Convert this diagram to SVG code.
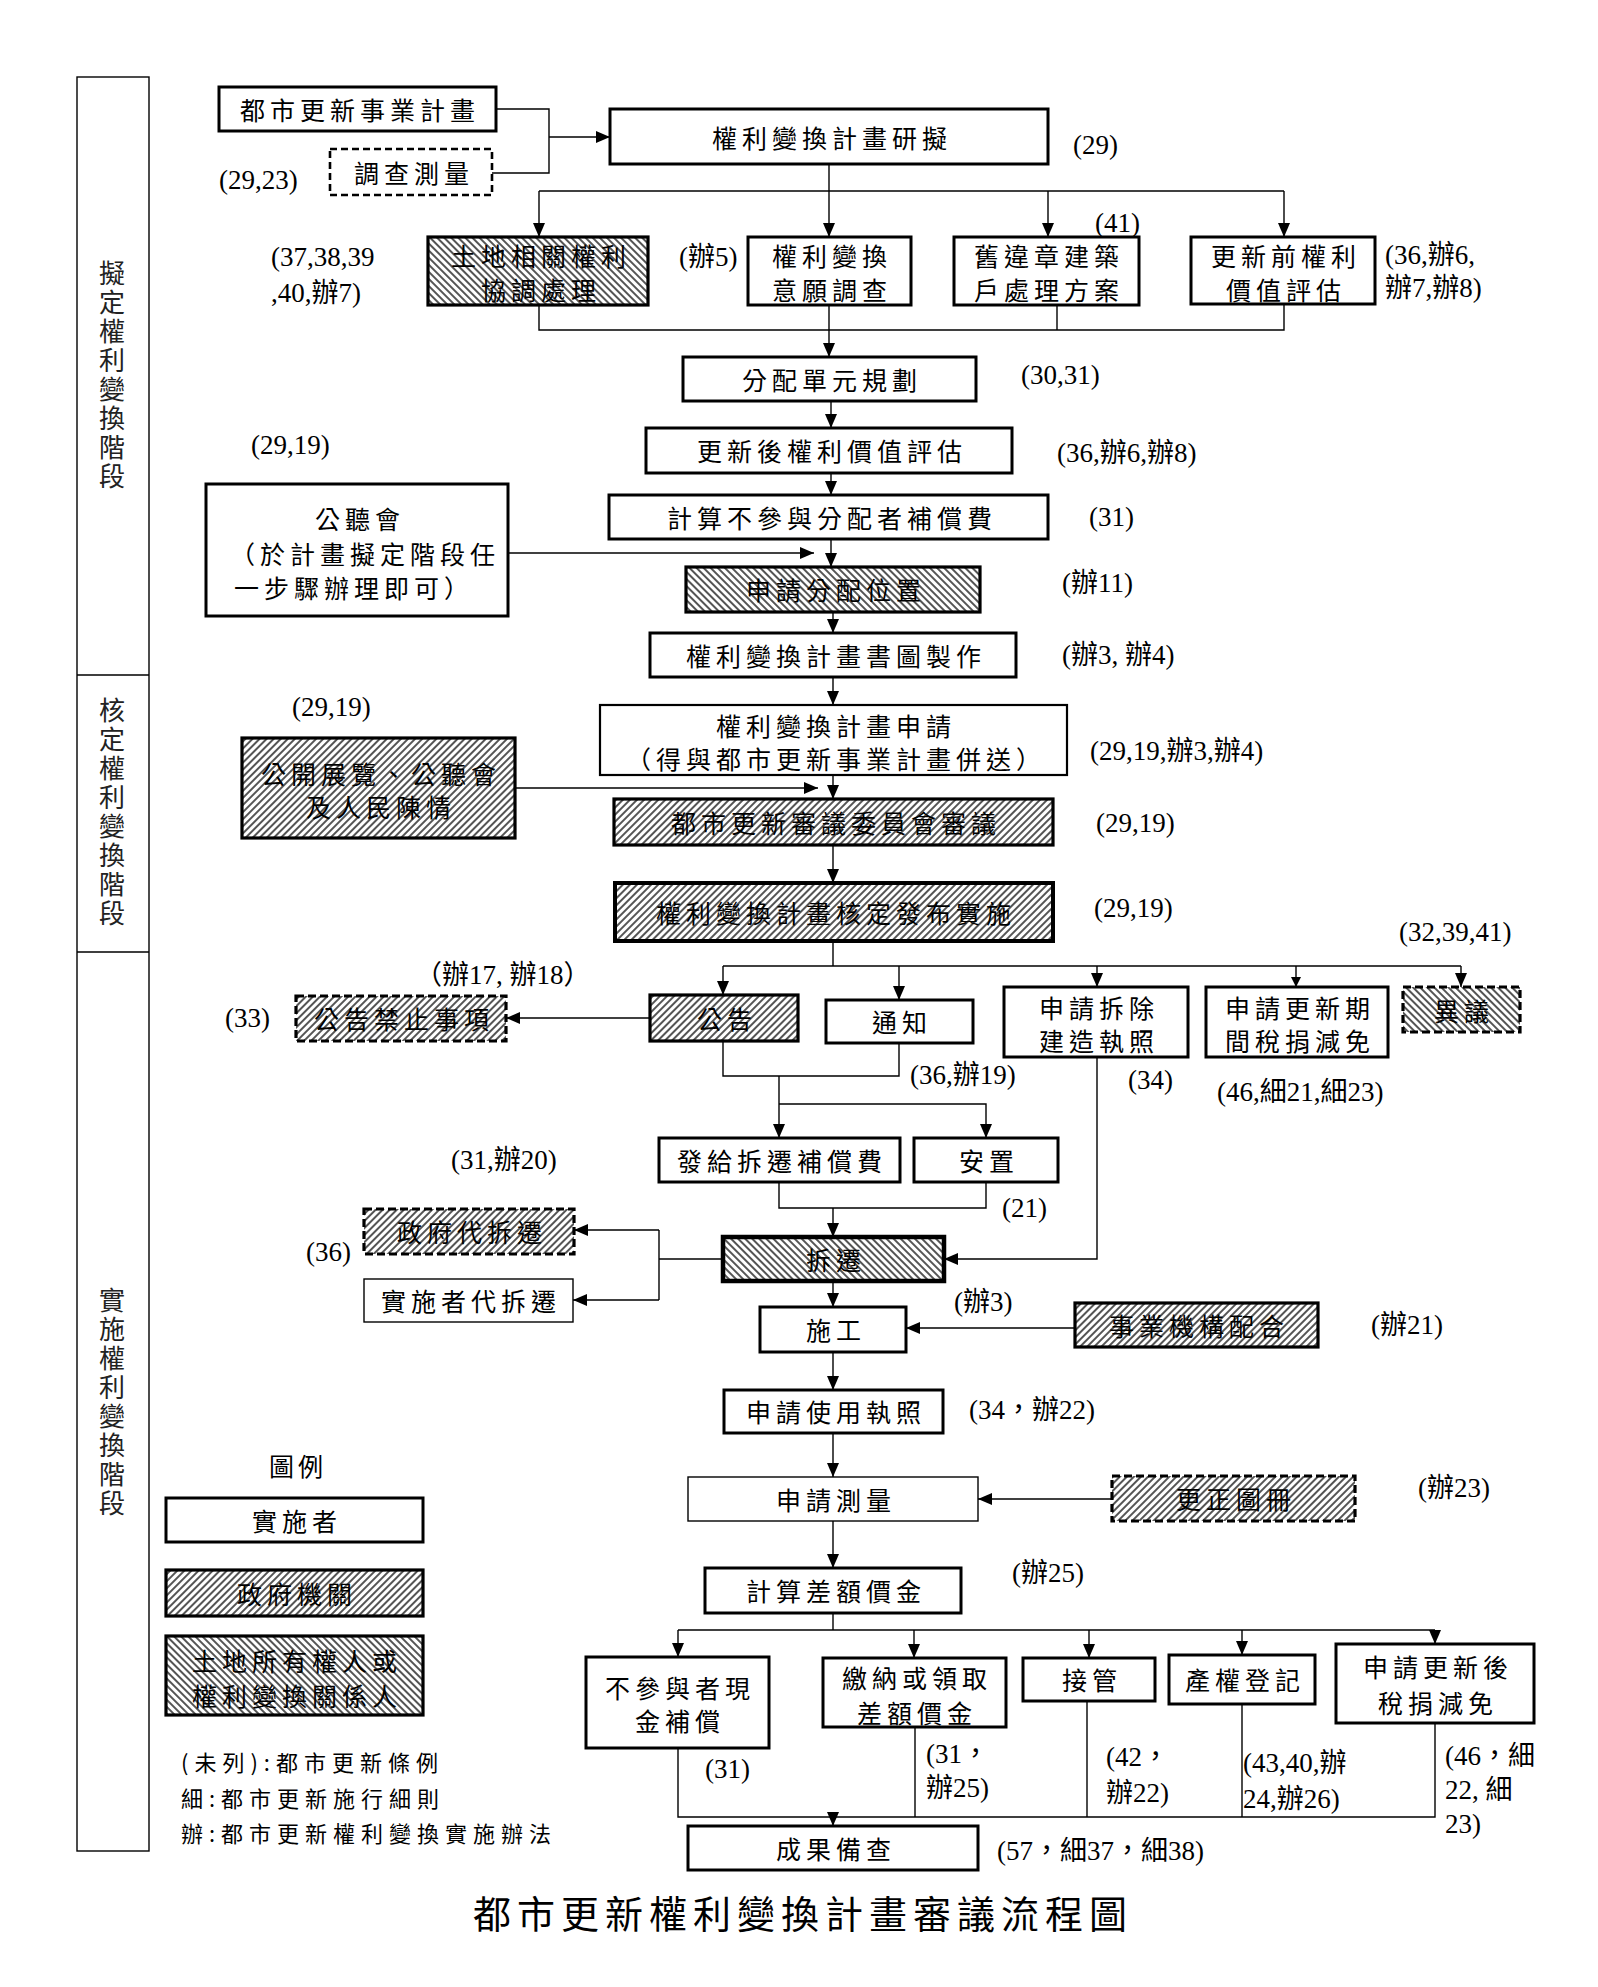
<svg xmlns="http://www.w3.org/2000/svg" width="1598" height="1987" viewBox="0 0 1598 1987">
<style>
.b{fill:#fff;stroke:#000;stroke-width:3}
.bt{fill:#fff;stroke:#000;stroke-width:1.4}
.hf{fill:url(#hf);stroke:#000;stroke-width:3.2}
.hb{fill:url(#hb);stroke:#000;stroke-width:3.2}
.d{stroke-dasharray:8 4}
.dn{fill:#fff;stroke:#000;stroke-width:2.6;stroke-dasharray:7 4}
.t{font-family:"Noto Sans CJK TC","Noto Sans CJK SC",sans-serif;font-size:25px;letter-spacing:5px;text-anchor:middle;dominant-baseline:central;fill:#000}
.n{font-family:"Liberation Serif","Noto Sans CJK TC",serif;font-size:27px;dominant-baseline:central;fill:#000}
.s{font-family:"Noto Sans CJK TC",sans-serif;font-size:26px;letter-spacing:3px;writing-mode:vertical-rl;text-anchor:middle;fill:#222}
.f{font-family:"Noto Sans CJK TC",sans-serif;font-size:22px;letter-spacing:6px;dominant-baseline:central;fill:#000}
.c path{fill:none;stroke:#000;stroke-width:1.4}
.frame{fill:none;stroke:#000;stroke-width:1.4}
</style>
<defs>
<pattern id="hf" patternUnits="userSpaceOnUse" width="5" height="5" patternTransform="rotate(45)"><rect width="5" height="5" fill="#fff"/><rect width="2" height="5" fill="#555"/></pattern>
<pattern id="hb" patternUnits="userSpaceOnUse" width="5" height="5" patternTransform="rotate(-45)"><rect width="5" height="5" fill="#fff"/><rect width="2" height="5" fill="#555"/></pattern>
<marker id="a" markerWidth="14" markerHeight="12" refX="14" refY="6" orient="auto" markerUnits="userSpaceOnUse"><path d="M0,0L14,6L0,12z" fill="#000"/></marker>
<marker id="sm" markerWidth="10" markerHeight="10" refX="10" refY="5" orient="auto" markerUnits="userSpaceOnUse"><path d="M0,0L10,5L0,10z" fill="#000"/></marker>
</defs>
<rect width="1598" height="1987" fill="#fff"/>

<g id="stages">
<rect class="frame" x="77" y="77" width="72" height="1774"/>
<path class="frame" d="M77,675H149M77,952H149"/>
<text class="s" x="112" y="376">擬定權利變換階段</text>
<text class="s" x="112" y="813">核定權利變換階段</text>
<text class="s" x="112" y="1403">實施權利變換階段</text>
</g>

<g class="c" id="connectors">
<path d="M496,109H549V173H492"/>
<path d="M549,137H610" marker-end="url(#a)"/>
<path d="M829,164V237" marker-end="url(#a)"/>
<path d="M539,191H1284"/>
<path d="M539,191V237" marker-end="url(#a)"/>
<path d="M1048,191V237" marker-end="url(#a)"/>
<path d="M1284,191V237" marker-end="url(#a)"/>
<path d="M539,305V330H1284V304"/>
<path d="M1057,305V330"/>
<path d="M829,305V357" marker-end="url(#a)"/>
<path d="M831,401V428" marker-end="url(#a)"/>
<path d="M831,473V495" marker-end="url(#a)"/>
<path d="M831,539V567" marker-end="url(#a)"/>
<path d="M508,553H814" marker-end="url(#a)"/>
<path d="M833,612V633" marker-end="url(#a)"/>
<path d="M833,677V705" marker-end="url(#a)"/>
<path d="M833,775V799" marker-end="url(#a)"/>
<path d="M515,788H818" marker-end="url(#a)"/>
<path d="M833,845V883" marker-end="url(#a)"/>
<path d="M833,941V966"/>
<path d="M723,966H1461"/>
<path d="M723,966V995" marker-end="url(#a)"/>
<path d="M899,966V1000" marker-end="url(#a)"/>
<path d="M1097,966V987" marker-end="url(#a)"/>
<path d="M1296,966V987" marker-end="url(#sm)"/>
<path d="M1461,966V987" marker-end="url(#a)"/>
<path d="M650,1018H506" marker-end="url(#a)"/>
<path d="M723,1041V1076H899V1043"/>
<path d="M779,1076V1138" marker-end="url(#a)"/>
<path d="M779,1104H986V1138" marker-end="url(#a)"/>
<path d="M779,1182V1208H986V1182"/>
<path d="M833,1208V1237" marker-end="url(#a)"/>
<path d="M1097,1057V1259H944" marker-end="url(#a)"/>
<path d="M723,1259H659"/>
<path d="M659,1230V1300"/>
<path d="M659,1230H574" marker-end="url(#a)"/>
<path d="M659,1300H573" marker-end="url(#a)"/>
<path d="M833,1281V1307" marker-end="url(#a)"/>
<path d="M1075,1328H906" marker-end="url(#a)"/>
<path d="M833,1352V1390" marker-end="url(#a)"/>
<path d="M833,1433V1477" marker-end="url(#a)"/>
<path d="M1112,1499H978" marker-end="url(#a)"/>
<path d="M833,1521V1568" marker-end="url(#a)"/>
<path d="M833,1613V1630"/>
<path d="M678,1630H1435"/>
<path d="M678,1630V1657" marker-end="url(#a)"/>
<path d="M914,1630V1658" marker-end="url(#a)"/>
<path d="M1089,1630V1658" marker-end="url(#a)"/>
<path d="M1242,1630V1655" marker-end="url(#a)"/>
<path d="M1435,1630V1644" marker-end="url(#a)"/>
<path d="M678,1748V1817H1435V1723"/>
<path d="M915,1727V1817"/>
<path d="M1087,1701V1817"/>
<path d="M1242,1704V1817"/>
<path d="M833,1812V1826" marker-end="url(#a)"/>
</g>

<g id="n1"><rect class="b" x="219" y="87" width="277" height="44"/><text class="t" x="360" y="109">都市更新事業計畫</text></g>
<g id="n2"><rect class="dn" x="330" y="149" width="162" height="46"/><text class="t" x="414" y="172">調查測量</text></g>
<g id="n3"><rect class="b" x="610" y="109" width="438" height="55"/><text class="t" x="832" y="137">權利變換計畫研擬</text></g>
<g id="n4"><rect class="hb" x="428" y="237" width="220" height="68"/><text class="t" x="541" y="255">土地相關權利</text><text class="t" x="541" y="289">協調處理</text></g>
<g id="n5"><rect class="b" x="748" y="237" width="163" height="68"/><text class="t" x="832" y="255">權利變換</text><text class="t" x="832" y="289">意願調查</text></g>
<g id="n6"><rect class="b" x="954" y="237" width="185" height="68"/><text class="t" x="1049" y="255">舊違章建築</text><text class="t" x="1049" y="289">戶處理方案</text></g>
<g id="n7"><rect class="b" x="1191" y="237" width="184" height="67"/><text class="t" x="1286" y="255">更新前權利</text><text class="t" x="1286" y="289">價值評估</text></g>
<g id="n8"><rect class="b" x="683" y="357" width="293" height="44"/><text class="t" x="832" y="379">分配單元規劃</text></g>
<g id="n9"><rect class="b" x="646" y="428" width="366" height="45"/><text class="t" x="832" y="450">更新後權利價值評估</text></g>
<g id="n10"><rect class="b" x="609" y="495" width="439" height="44"/><text class="t" x="832" y="517">計算不參與分配者補償費</text></g>
<g id="n11"><rect class="b" x="206" y="484" width="302" height="132"/><text class="t" x="360" y="518">公聽會</text><text class="t" x="365" y="553">（於計畫擬定階段任</text><text class="t" x="354" y="587">一步驟辦理即可）</text></g>
<g id="n12"><rect class="hb" x="686" y="567" width="294" height="45"/><text class="t" x="836" y="589">申請分配位置</text></g>
<g id="n13"><rect class="b" x="650" y="633" width="366" height="44"/><text class="t" x="836" y="655">權利變換計畫書圖製作</text></g>
<g id="n14"><rect class="b" x="600" y="705" width="467" height="70" style="stroke-width:2.2"/><text class="t" x="836" y="725">權利變換計畫申請</text><text class="t" x="836" y="758">（得與都市更新事業計畫併送）</text></g>
<g id="n15"><rect class="hf" x="242" y="738" width="273" height="100"/><text class="t" x="381" y="773">公開展覽、公聽會</text><text class="t" x="381" y="806">及人民陳情</text></g>
<g id="n16"><rect class="hf" x="614" y="799" width="439" height="46"/><text class="t" x="836" y="822">都市更新審議委員會審議</text></g>
<g id="n17"><rect class="hf" x="615" y="883" width="438" height="58" style="stroke-width:4"/><text class="t" x="836" y="912">權利變換計畫核定發布實施</text></g>
<g id="n18"><rect class="hf" x="650" y="995" width="148" height="46"/><text class="t" x="727" y="1018">公告</text></g>
<g id="n19"><rect class="hf d" x="296" y="996" width="210" height="45"/><text class="t" x="404" y="1018">公告禁止事項</text></g>
<g id="n20"><rect class="b" x="826" y="1000" width="147" height="43"/><text class="t" x="902" y="1021">通知</text></g>
<g id="n21"><rect class="b" x="1004" y="987" width="184" height="70"/><text class="t" x="1099" y="1007">申請拆除</text><text class="t" x="1099" y="1040">建造執照</text></g>
<g id="n22"><rect class="b" x="1206" y="987" width="182" height="70"/><text class="t" x="1300" y="1007">申請更新期</text><text class="t" x="1300" y="1040">間稅捐減免</text></g>
<g id="n23"><rect class="hb d" x="1403" y="987" width="117" height="45"/><text class="t" x="1464" y="1010">異議</text></g>
<g id="n24"><rect class="b" x="659" y="1138" width="241" height="44"/><text class="t" x="782" y="1160">發給拆遷補償費</text></g>
<g id="n25"><rect class="b" x="914" y="1138" width="144" height="44"/><text class="t" x="989" y="1160">安置</text></g>
<g id="n26"><rect class="hb" x="723" y="1237" width="221" height="44" style="stroke-width:4.5"/><text class="t" x="836" y="1259">拆遷</text></g>
<g id="n27"><rect class="hf d" x="364" y="1209" width="210" height="45"/><text class="t" x="472" y="1231">政府代拆遷</text></g>
<g id="n28"><rect class="bt" x="364" y="1279" width="209" height="43"/><text class="t" x="471" y="1300">實施者代拆遷</text></g>
<g id="n29"><rect class="b" x="760" y="1307" width="146" height="45"/><text class="t" x="836" y="1329">施工</text></g>
<g id="n30"><rect class="hf" x="1075" y="1303" width="243" height="44"/><text class="t" x="1199" y="1325">事業機構配合</text></g>
<g id="n31"><rect class="b" x="724" y="1390" width="219" height="43"/><text class="t" x="836" y="1411">申請使用執照</text></g>
<g id="n32"><rect class="bt" x="688" y="1477" width="290" height="44"/><text class="t" x="836" y="1499">申請測量</text></g>
<g id="n33"><rect class="hf d" x="1112" y="1476" width="243" height="45"/><text class="t" x="1236" y="1498">更正圖冊</text></g>
<g id="n34"><rect class="b" x="705" y="1568" width="256" height="45"/><text class="t" x="836" y="1590">計算差額價金</text></g>
<g id="n35"><rect class="b" x="586" y="1657" width="183" height="91"/><text class="t" x="680" y="1687">不參與者現</text><text class="t" x="680" y="1720">金補償</text></g>
<g id="n36"><rect class="b" x="823" y="1658" width="183" height="69"/><text class="t" x="917" y="1677">繳納或領取</text><text class="t" x="917" y="1712">差額價金</text></g>
<g id="n37"><rect class="b" x="1023" y="1658" width="132" height="43"/><text class="t" x="1092" y="1679">接管</text></g>
<g id="n38"><rect class="b" x="1169" y="1655" width="146" height="49"/><text class="t" x="1245" y="1679">產權登記</text></g>
<g id="n39"><rect class="b" x="1336" y="1644" width="198" height="79"/><text class="t" x="1438" y="1666">申請更新後</text><text class="t" x="1438" y="1702">稅捐減免</text></g>
<g id="n40"><rect class="b" x="688" y="1826" width="290" height="44"/><text class="t" x="836" y="1848">成果備查</text></g>

<g id="labels">
<text class="n" x="219" y="180">(29,23)</text>
<text class="n" x="1073" y="145">(29)</text>
<text class="n" x="271" y="257">(37,38,39</text>
<text class="n" x="271" y="293">,40,辦7)</text>
<text class="n" x="679" y="257">(辦5)</text>
<text class="n" x="1095" y="223">(41)</text>
<text class="n" x="1385" y="255">(36,辦6,</text>
<text class="n" x="1385" y="288">辦7,辦8)</text>
<text class="n" x="1021" y="375">(30,31)</text>
<text class="n" x="251" y="445">(29,19)</text>
<text class="n" x="1057" y="453">(36,辦6,辦8)</text>
<text class="n" x="1089" y="517">(31)</text>
<text class="n" x="1062" y="583">(辦11)</text>
<text class="n" x="1062" y="655">(辦3, 辦4)</text>
<text class="n" x="292" y="707">(29,19)</text>
<text class="n" x="1090" y="751">(29,19,辦3,辦4)</text>
<text class="n" x="1096" y="823">(29,19)</text>
<text class="n" x="1094" y="908">(29,19)</text>
<text class="n" x="1399" y="932">(32,39,41)</text>
<text class="n" x="415" y="975">（辦17, 辦18）</text>
<text class="n" x="225" y="1018">(33)</text>
<text class="n" x="910" y="1075">(36,辦19)</text>
<text class="n" x="1128" y="1080">(34)</text>
<text class="n" x="1217" y="1092">(46,細21,細23)</text>
<text class="n" x="451" y="1160">(31,辦20)</text>
<text class="n" x="1002" y="1208">(21)</text>
<text class="n" x="306" y="1252">(36)</text>
<text class="n" x="954" y="1302">(辦3)</text>
<text class="n" x="1371" y="1325">(辦21)</text>
<text class="n" x="969" y="1410">(34，辦22)</text>
<text class="n" x="1418" y="1488">(辦23)</text>
<text class="n" x="1012" y="1573">(辦25)</text>
<text class="n" x="705" y="1769">(31)</text>
<text class="n" x="926" y="1754">(31，</text>
<text class="n" x="926" y="1788">辦25)</text>
<text class="n" x="1106" y="1757">(42，</text>
<text class="n" x="1106" y="1793">辦22)</text>
<text class="n" x="1243" y="1763">(43,40,辦</text>
<text class="n" x="1243" y="1799">24,辦26)</text>
<text class="n" x="1445" y="1756">(46，細</text>
<text class="n" x="1445" y="1790">22, 細</text>
<text class="n" x="1445" y="1824">23)</text>
<text class="n" x="997" y="1851">(57，細37，細38)</text>
</g>

<g id="legend">
<text class="t" x="298" y="1465" style="letter-spacing:4px">圖例</text>
<rect class="b" x="166" y="1498" width="257" height="44"/><text class="t" x="297" y="1520">實施者</text>
<rect class="hf" x="166" y="1570" width="257" height="46"/><text class="t" x="297" y="1593">政府機關</text>
<rect class="hb" x="166" y="1636" width="257" height="79"/><text class="t" x="297" y="1660">土地所有權人或</text><text class="t" x="297" y="1695">權利變換關係人</text>
<text class="f" x="181" y="1761">(未列):都市更新條例</text>
<text class="f" x="181" y="1797">細:都市更新施行細則</text>
<text class="f" x="181" y="1832">辦:都市更新權利變換實施辦法</text>
</g>

<g id="title"><text x="803" y="1911" style="font-family:'Noto Sans CJK TC',sans-serif;font-size:38px;letter-spacing:6px;text-anchor:middle;dominant-baseline:central">都市更新權利變換計畫審議流程圖</text></g>
</svg>
